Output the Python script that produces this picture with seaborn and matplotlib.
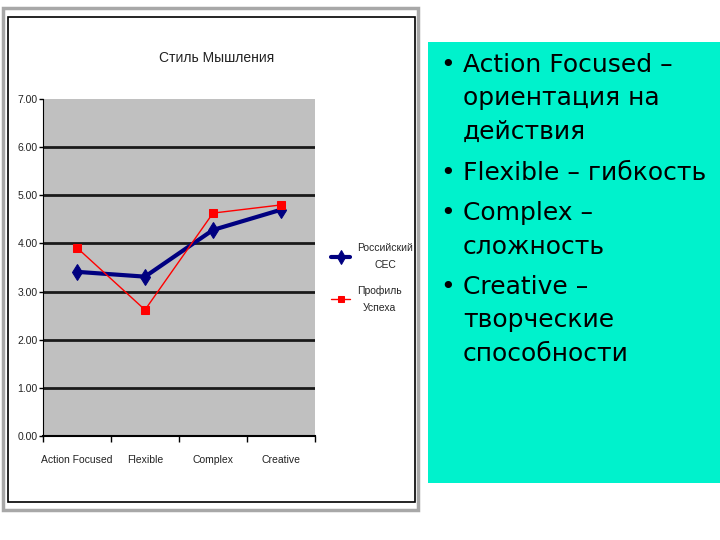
import pandas as pd
import matplotlib
matplotlib.use("Agg")
import matplotlib.pyplot as plt
from matplotlib.patches import Rectangle
import seaborn as sns

# --- data ---
categories = ["Action Focused", "Flexible", "Complex", "Creative"]
sec_values = [3.41, 3.31, 4.28, 4.70]       # Российский СЕС
success_values = [3.91, 2.62, 4.63, 4.80]   # Профиль Успеха
y_ticks = [0, 1, 2, 3, 4, 5, 6, 7]
bullets = [
    ["Action Focused –", "ориентация на", "действия"],
    ["Flexible – гибкость"],
    ["Complex –", "сложность"],
    ["Creative –", "творческие", "способности"],
]

sns.set_style("white")
plt.rcParams["font.family"] = ["Liberation Sans", "DejaVu Sans"]

fig = plt.figure(figsize=(7.2, 5.4), dpi=100)

# slide frame around chart
fig.patches.append(Rectangle((3/720, 1-510/540), 415/720, 502/540, transform=fig.transFigure,
                             fill=False, edgecolor="#a8a8a8", lw=2.5, zorder=0))
fig.patches.append(Rectangle((8/720, 1-502/540), 407/720, 485/540, transform=fig.transFigure,
                             fill=False, edgecolor="black", lw=1.2, zorder=0))

ax = fig.add_axes([43/720, 1-436/540, 272/720, 337/540])
ax.set_facecolor("#c0c0c0")

x_pos = list(range(len(categories)))
sns.lineplot(x=x_pos, y=sec_values, ax=ax, color="#000080", lw=3,
             marker="d", markersize=8.5, markeredgecolor="#000080",
             label="Российский\nСЕС", zorder=3)
sns.lineplot(x=x_pos, y=success_values, ax=ax, color="#ff0000", lw=1,
             marker="s", markersize=5.5, markeredgecolor="#ff0000",
             label="Профиль\nУспеха", zorder=4)

ax.set_xlim(-0.5, 3.5)
ax.set_ylim(0, 7)
ax.set_yticks(y_ticks)
ax.set_yticklabels([f"{v:.2f}" for v in y_ticks], fontsize=7.5, color="#222222")
ax.set_xticks([-0.5, 0.5, 1.5, 2.5, 3.5])
ax.set_xticklabels([])
ax.set_xticks(x_pos, minor=True)
ax.set_xticklabels(categories, minor=True, fontsize=7.5, color="#222222")
ax.tick_params(axis="x", which="major", direction="out", length=4, width=1, color="black", bottom=True)
ax.tick_params(axis="x", which="minor", length=0, pad=14)
ax.tick_params(axis="y", direction="out", length=3, width=1, color="black", left=True, pad=1)

for v in y_ticks[1:-1]:
    ax.axhline(v, color="#1a1a1a", lw=2, zorder=1)

for side in ["top", "right"]:
    ax.spines[side].set_visible(False)
ax.spines["left"].set_color("black")
ax.spines["bottom"].set_color("black")
ax.spines["bottom"].set_linewidth(1.5)
ax.set_xlabel("")
ax.set_ylabel("")

fig.text(217/720, 1-58/540, "Стиль Мышления", ha="center", va="center",
         fontsize=10, color="#222222")

leg = ax.legend(loc="center left", bbox_to_anchor=(322/720, 1-278/540),
                bbox_transform=fig.transFigure, frameon=False, fontsize=7.5,
                handlelength=1.8, labelspacing=1.4, handletextpad=0.7,
                markerscale=0.8)
for t in leg.get_texts():
    t.set_multialignment("center")
    t.set_linespacing(1.9)

# turquoise text panel
fig.patches.append(Rectangle((428/720, 1-483/540), 292/720, 441/540, transform=fig.transFigure,
                             facecolor="#00f2cc", edgecolor="none", zorder=0))
line_h = 33.5
y = 65
for item in bullets:
    fig.text(448/720, 1-y/540, "•", fontsize=18, va="center", ha="center",
             family="DejaVu Sans", color="black")
    for line in item:
        fig.text(463/720, 1-y/540, line, fontsize=18, va="center", ha="left",
                 family="DejaVu Sans", color="black")
        y += line_h
    y += 7

fig.savefig("out.png", dpi=100)
